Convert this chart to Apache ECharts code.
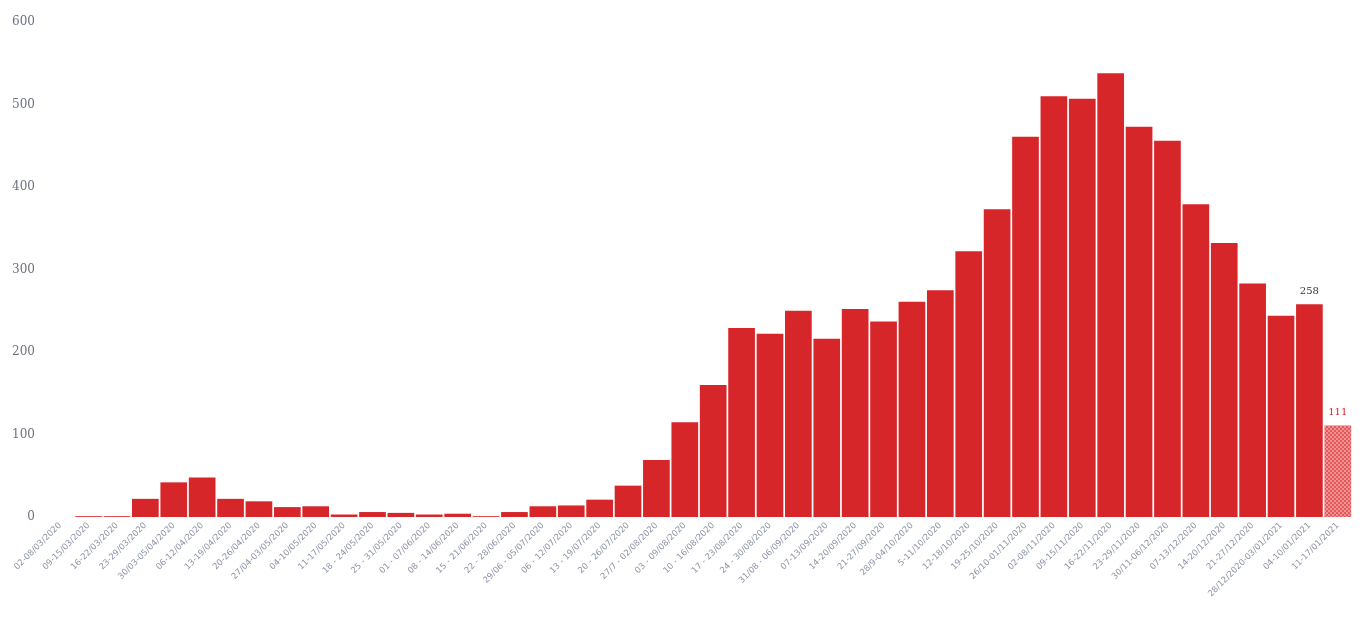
<!DOCTYPE html>
<html>
<head>
<meta charset="utf-8">
<script src="https://cdn.jsdelivr.net/npm/echarts@6/dist/echarts.min.js"></script>
<style>
  html, body { margin: 0; padding: 0; background: #fff; }
  #chart { width: 1361px; height: 628px; }
</style>
</head>
<body>
<div id="chart"></div>
<script>
// weekly periods
const weeks = [
    '02-08/03/2020', '09-15/03/2020', '16-22/03/2020', '23-29/03/2020', '30/03-05/04/2020',
    '06-12/04/2020', '13-19/04/2020', '20-26/04/2020', '27/04-03/05/2020', '04-10/05/2020',
    '11-17/05/2020', '18 - 24/05/2020', '25 - 31/05/2020', '01 - 07/06/2020', '08 - 14/06/2020',
    '15 - 21/06/2020', '22 - 28/06/2020', '29/06 - 05/07/2020', '06 - 12/07/2020', '13 - 19/07/2020',
    '20 - 26/07/2020', '27/7 - 02/08/2020', '03 - 09/08/2020', '10 - 16/08/2020', '17 - 23/08/2020',
    '24 - 30/08/2020', '31/08 - 06/09/2020', '07-13/09/2020', '14-20/09/2020', '21-27/09/2020',
    '28/9-04/10/2020', '5-11/10/2020', '12-18/10/2020', '19-25/10/2020', '26/10-01/11/2020',
    '02-08/11/2020', '09-15/11/2020', '16-22/11/2020', '23-29/11/2020', '30/11-06/12/2020',
    '07-13/12/2020', '14-20/12/2020', '21-27/12/2020', '28/12/2020-03/01/2021', '04-10/01/2021',
    '11-17/01/2021'
];

// weekly counts
const cases = [
    0, 1, 1, 22, 42, 48, 22, 19, 12, 13,
    3, 6, 5, 3, 4, 1, 6, 13, 14, 21,
    38, 69, 115, 160, 229, 222, 250, 216, 252, 237,
    261, 275, 322, 373, 461, 510, 507, 538, 473, 456,
    379, 332, 283, 244, 258, 111
];

// y axis ticks
const yTicks = [0, 100, 200, 300, 400, 500, 600];

const lastIdx = cases.length - 1;
const barRed = '#d6262a';

const chart = echarts.init(document.getElementById('chart'));

const seriesData = cases.map(function(v, i) {
    if (i === lastIdx) {
        return {
            value: v,
            itemStyle: {
                color: '#e5585a',
                decal: {
                    symbol: 'rect',
                    symbolSize: 1,
                    dashArrayX: [[2, 2], [0, 2, 2, 0]],
                    dashArrayY: [2, 0],
                    color: 'rgba(255,255,255,0.35)'
                }
            },
            label: { show: true, color: '#d6262a' }
        };
    }
    if (i === lastIdx - 1) {
        return { value: v, label: { show: true, color: '#333' } };
    }
    return v;
});

const option = {
    animation: false,
    backgroundColor: '#fff',
    grid: { left: 46, right: 9, top: 22, bottom: 111 },
    xAxis: {
        type: 'category',
        data: weeks,
        axisLine: { show: false },
        axisTick: { show: false },
        axisLabel: {
            interval: 0,
            rotate: 45,
            fontSize: 8.5,
            margin: 7,
            color: '#8d93a5',
            fontFamily: 'DejaVu Sans'
        }
    },
    yAxis: {
        type: 'value',
        min: yTicks[0],
        max: yTicks[yTicks.length - 1],
        interval: 100,
        axisLine: { show: false },
        axisTick: { show: false },
        splitLine: { show: false },
        axisLabel: {
            margin: 11,
            fontSize: 12,
            color: '#6e7185',
            fontFamily: 'DejaVu Serif'
        }
    },
    series: [{
        type: 'bar',
        data: seriesData,
        barCategoryGap: '6%',
        itemStyle: { color: barRed },
        label: {
            show: false,
            position: 'top',
            distance: 8,
            fontSize: 10,
            fontFamily: 'DejaVu Serif'
        }
    }]
};

chart.setOption(option);
</script>
</body>
</html>
